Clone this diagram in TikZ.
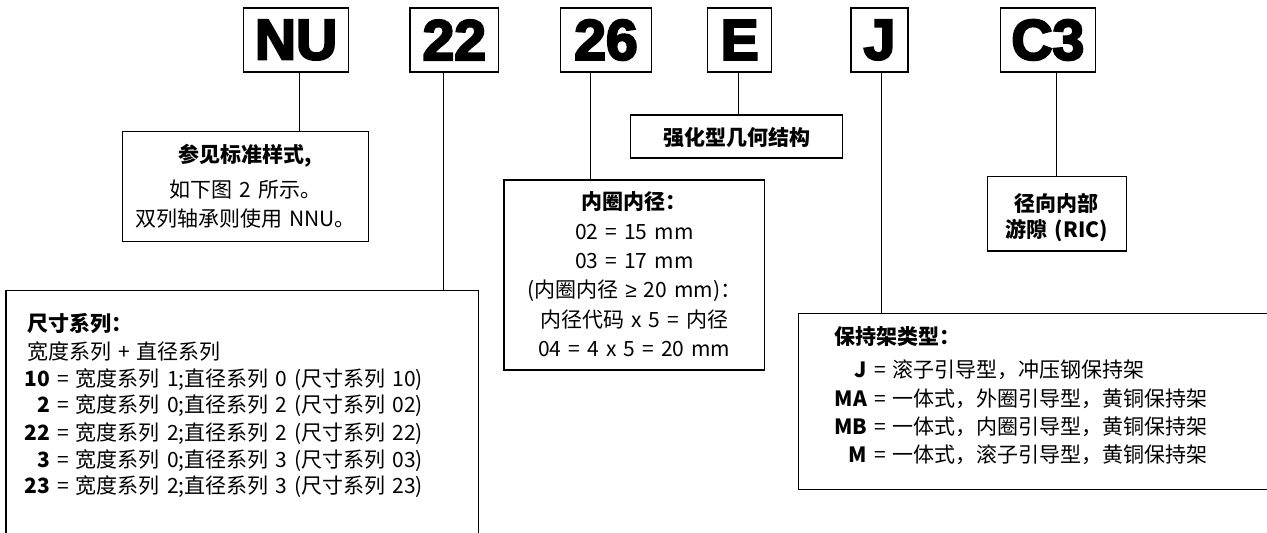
\documentclass[tikz,border=0pt]{standalone}
\usepackage{fontspec}
\setmainfont{Noto Sans CJK SC}[WordSpace=1.5]
\newfontfamily\bigfont{Liberation Sans Bold}[FakeBold=4]
\newfontfamily\symfont{Liberation Sans}
\newcommand\dimlab[1]{\makebox[23pt][r]{\bfseries #1}}
\newcommand\cagelab[1]{\makebox[33pt][r]{\bfseries #1}}
\tikzset{
  codebox/.style={draw, line width=1.3pt, inner sep=0pt, minimum height=64pt,
    font=\bigfont\fontsize{57}{57}\selectfont},
  frame/.style={draw, line width=1.3pt, inner sep=0pt},
  leader/.style={line width=1pt},
  body/.style={inner sep=0pt, font=\fontsize{21}{27}\selectfont},
  head/.style={inner sep=0pt, font=\bfseries\fontsize{21}{27}\selectfont},
}
\begin{document}
\begin{tikzpicture}[x=1pt,y=-1pt]
\useasboundingbox (0,0) rectangle (1267,533);
% code boxes
\node[codebox, minimum width=104.6pt] (nu)  at (296,40)    {NU};
\node[codebox, minimum width=88.7pt]  (p22) at (454.35,40) {22};
\node[codebox, minimum width=91.4pt]  (p26) at (606,40)    {26};
\node[codebox, minimum width=64pt]    (pe)  at (739.7,40)  {E};
\node[codebox, minimum width=57pt]    (pj)  at (879.5,40)  {J};
\node[codebox, minimum width=95pt]    (pc3) at (1047.8,40) {C3};
% description frames
\node[frame, minimum width=246pt, minimum height=110pt] (nudesc) at (245.3,186.7) {};
\node[frame, minimum width=212.4pt, minimum height=43pt] (edesc) at (736.5,136.5) {};
\node[frame, minimum width=260.7pt, minimum height=190pt] (bdesc) at (634.3,275) {};
\node[frame, minimum width=139pt, minimum height=74.3pt] (cdesc) at (1056.8,213.8) {};
\node[frame, minimum width=472.3pt, minimum height=254.3pt] (dim) at (242.15,417.85) {};
\node[frame, minimum width=476.7pt, minimum height=176pt] (cage) at (1036.65,401.3) {};
% leaders
\draw[leader] ([xshift=3pt]nu.south) -- ([xshift=3pt]nu.south |- nudesc.north);
\draw[leader] ([xshift=-11pt]p22.south) -- ([xshift=-11pt]p22.south |- dim.north);
\draw[leader] ([xshift=-15.3pt]p26.south) -- ([xshift=-15.3pt]p26.south |- bdesc.north);
\draw[leader] ([xshift=-1.4pt]pe.south) -- ([xshift=-1.4pt]pe.south |- edesc.north);
\draw[leader] ([xshift=2.2pt]pj.south) -- ([xshift=2.2pt]pj.south |- cage.north);
\draw[leader] (cdesc.north) -- (cdesc.north |- pc3.south);
% NU description
\node[head, anchor=base] (nud1) at (245.3,162.7) {参见标准样式,};
\node[body, anchor=base] (nud2) at (245.3,197.7) {如下图 2 所示。};
\node[body, anchor=base] (nud3) at (245.3,226) {双列轴承则使用 NNU。};
% E description
\node[head, anchor=base] (ed1) at (736.5,145) {强化型几何结构};
% bore description
\node[head, anchor=base] (bd1) at (634.3,209.4) {内圈内径：};
\node[body, anchor=base] (bd2) at (634.3,239.4) {02 = 15 mm};
\node[body, anchor=base] (bd3) at (634.3,268.4) {03 = 17 mm};
\node[body, anchor=base] (bd4) at (634.3,297.7) {(内圈内径 {\symfont ≥} 20 mm)：};
\node[body, anchor=base] (bd5) at (634.3,327) {内径代码 x 5 = 内径};
\node[body, anchor=base] (bd6) at (634.3,356) {04 = 4 x 5 = 20 mm};
% clearance description
\node[head, anchor=base] (cd1) at (1056.8,211.7) {径向内部};
\node[head, anchor=base] (cd2) at (1056.8,237.7) {游隙 (RIC)};
% dimension series
\node[head, anchor=base west] (dd1) at (27,331) {尺寸系列：};
\node[body, anchor=base west] (dd2) at (27,359) {宽度系列 + 直径系列};
\node[body, anchor=base west] (dd3) at (27,386) {\dimlab{10} = 宽度系列 1;直径系列 0 (尺寸系列 10)};
\node[body, anchor=base west] (dd4) at (27,412.5) {\dimlab{2} = 宽度系列 0;直径系列 2 (尺寸系列 02)};
\node[body, anchor=base west] (dd5) at (27,440) {\dimlab{22} = 宽度系列 2;直径系列 2 (尺寸系列 22)};
\node[body, anchor=base west] (dd6) at (27,467) {\dimlab{3} = 宽度系列 0;直径系列 3 (尺寸系列 03)};
\node[body, anchor=base west] (dd7) at (27,493.5) {\dimlab{23} = 宽度系列 2;直径系列 3 (尺寸系列 23)};
% cage type
\node[head, anchor=base west] (cg1) at (834,344.4) {保持架类型：};
\node[body, anchor=base west] (cg2) at (834,377.7) {\cagelab{J} = 滚子引导型，冲压钢保持架};
\node[body, anchor=base west] (cg3) at (834,406) {\cagelab{MA} = 一体式，外圈引导型，黄铜保持架};
\node[body, anchor=base west] (cg4) at (834,434.4) {\cagelab{MB} = 一体式，内圈引导型，黄铜保持架};
\node[body, anchor=base west] (cg5) at (834,462.7) {\cagelab{M} = 一体式，滚子引导型，黄铜保持架};
\end{tikzpicture}
\end{document}
